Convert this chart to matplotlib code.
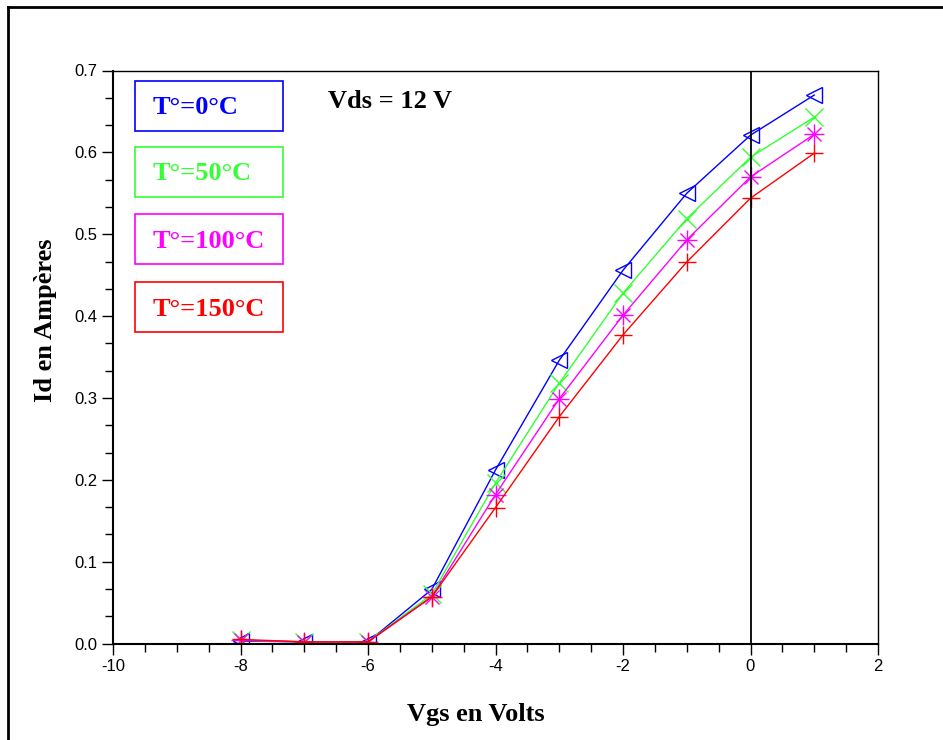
import matplotlib
matplotlib.use("Agg")
import matplotlib.pyplot as plt
from matplotlib.patches import Rectangle
from matplotlib.lines import Line2D
from matplotlib.ticker import MultipleLocator, FuncFormatter

# Vgs (V) and Id (A) for each temperature
vgs = [-8, -7, -6, -5, -4, -3, -2, -1, 0, 1]
id_0 = [0.003, 0.002, 0.002, 0.066, 0.212, 0.346, 0.456, 0.550, 0.621, 0.670]
id_50 = [0.004, 0.002, 0.002, 0.060, 0.196, 0.318, 0.428, 0.519, 0.594, 0.643]
id_100 = [0.004, 0.002, 0.002, 0.057, 0.182, 0.299, 0.401, 0.493, 0.570, 0.622]
id_150 = [0.005, 0.002, 0.002, 0.057, 0.166, 0.277, 0.377, 0.466, 0.544, 0.599]

labels = ["T°=0°C", "T°=50°C", "T°=100°C", "T°=150°C"]
colors = ["#0000ff", "#33ff33", "#ff00ff", "#ff0000"]
markers = ["<", "x", "*", "+"]

serif = ["Liberation Serif", "DejaVu Serif"]
sans = ["Liberation Sans", "DejaVu Sans"]

W, H = 943, 740
fig = plt.figure(figsize=(W / 100, H / 100), dpi=100)
ax_l, ax_r, ax_t, ax_b = 113, 878, 70.5, 643.5
ax = fig.add_axes([ax_l / W, 1 - ax_b / H, (ax_r - ax_l) / W, (ax_b - ax_t) / H])

series = [id_0, id_50, id_100, id_150]
for ys, c, m in zip(series, colors, markers):
    if m == "*":
        # scilab-like asterisk: plus + cross overlaid
        ax.plot(vgs, ys, "-", color=c, lw=1)
        ax.plot(vgs, ys, "+", color=c, ms=14, mew=1, ls="none")
        ax.plot(vgs, ys, "x", color=c, ms=10, mew=1, ls="none")
    elif m == "<":
        ax.plot(vgs, ys, "-", color=c, lw=1, marker="<", ms=11,
                mfc="none", mec=c, mew=1)
    else:
        ax.plot(vgs, ys, "-", color=c, lw=1, marker=m, ms=13, mew=1)

ax.axvline(0, color="black", lw=1.3)

ax.set_xlim(-10, 2)
ax.set_ylim(0, 0.7)
ax.xaxis.set_major_locator(MultipleLocator(2))
ax.xaxis.set_minor_locator(MultipleLocator(0.5))
ax.yaxis.set_major_locator(MultipleLocator(0.1))
ax.yaxis.set_minor_locator(MultipleLocator(0.1 / 3))
ax.tick_params(which="major", direction="out", length=8, width=1, top=False, right=False)
ax.tick_params(which="minor", direction="out", length=6, width=1, top=False, right=False)
ax.xaxis.set_major_formatter(FuncFormatter(lambda v, p: f"{v:.0f}".replace("\u2212", "-")))
ax.yaxis.set_major_formatter(FuncFormatter(lambda v, p: f"{v:.1f}"))
for lab in ax.get_xticklabels() + ax.get_yticklabels():
    lab.set_family(sans)
    lab.set_fontsize(12)
for sp in ax.spines.values():
    sp.set_linewidth(1)
ax.spines["bottom"].set_linewidth(1.5)
ax.spines["left"].set_linewidth(1.5)

ax.set_xlabel("Vgs en Volts", family=serif, fontweight="bold", fontsize=19)
ax.xaxis.set_label_coords((476 - ax_l) / (ax_r - ax_l), (ax_b - 703) / (ax_b - ax_t))
ax.set_ylabel("Id en Ampères", family=serif, fontweight="bold", fontsize=19)
ax.yaxis.set_label_coords((57 - ax_l) / (ax_r - ax_l), (ax_b - 320) / (ax_b - ax_t))

# legend boxes drawn in pixel positions of the figure
box_tops = [81, 147, 214, 282]
for top, lab, c in zip(box_tops, labels, colors):
    x0, y0, w, h = 135, top, 148, 50
    fig.patches.append(Rectangle((x0 / W, 1 - (y0 + h) / H), w / W, h / H,
                                 transform=fig.transFigure, fill=False,
                                 edgecolor=c, lw=1.2))
    fig.text(153 / W, 1 - (y0 + h / 2 + 2) / H, lab, color=c, family=serif,
             fontweight="bold", fontsize=19, ha="left", va="center")

fig.text(328 / W, 1 - 101 / H, "Vds = 12 V", color="black", family=serif,
         fontweight="bold", fontsize=19, ha="left", va="center")

# outer frame (top and left edges visible)
fig.add_artist(Line2D([8 / W, 1.0], [1 - 7 / H, 1 - 7 / H],
                      transform=fig.transFigure, color="black", lw=2))
fig.add_artist(Line2D([8 / W, 8 / W], [0, 1 - 7 / H],
                      transform=fig.transFigure, color="black", lw=2))

fig.savefig("out.png", dpi=100)
